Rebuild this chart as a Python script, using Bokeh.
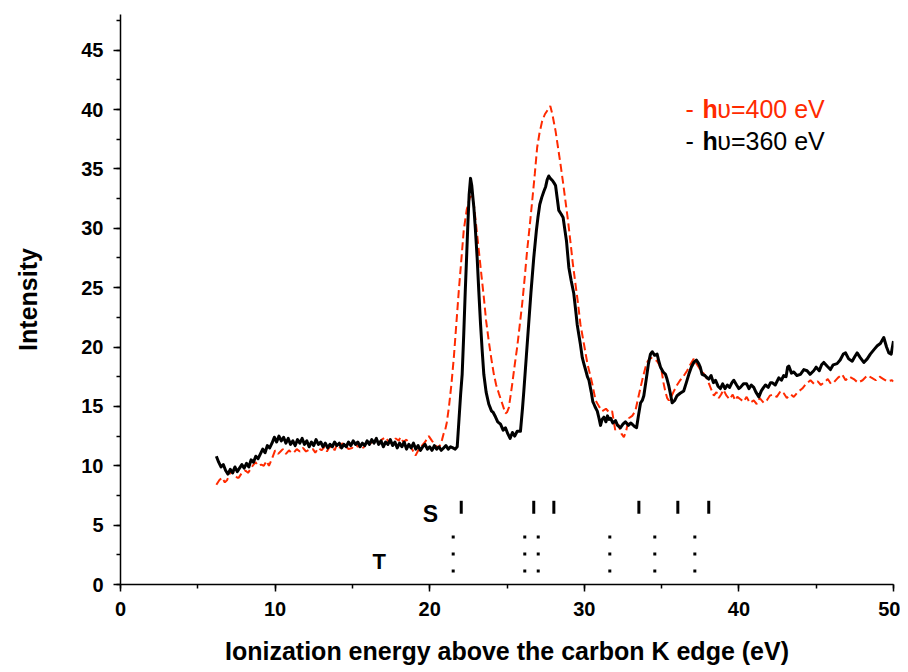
from bokeh.plotting import figure
from bokeh.models import Range1d, SingleIntervalTicker, Label, ColumnDataSource
from bokeh.embed import file_html
from bokeh.resources import INLINE

# ---- data ----
E360 = [6.2, 6.35, 6.5, 6.65, 6.8, 6.95, 7.1, 7.25, 7.4, 7.55, 7.7, 7.85, 8.0, 8.15, 8.3, 8.45, 8.6, 8.75, 8.9, 9.05,
        9.2, 9.35, 9.5, 9.65, 9.8, 9.95, 10.1, 10.25, 10.4, 10.55, 10.7, 10.85, 11.0, 11.15, 11.3, 11.45, 11.6, 11.75, 11.9, 12.05,
        12.2, 12.35, 12.5, 12.65, 12.8, 12.95, 13.1, 13.25, 13.4, 13.55, 13.7, 13.85, 14.0, 14.15, 14.3, 14.45, 14.6, 14.75, 14.9, 15.05,
        15.2, 15.35, 15.5, 15.65, 15.8, 15.95, 16.1, 16.25, 16.4, 16.55, 16.7, 16.85, 17.0, 17.15, 17.3, 17.45, 17.6, 17.75, 17.9, 18.05,
        18.2, 18.35, 18.5, 18.65, 18.8, 18.95, 19.1, 19.25, 19.4, 19.55, 19.7, 19.85, 20.0, 20.15, 20.3, 20.45, 20.6, 20.75, 20.9, 21.05,
        21.2, 21.35, 21.5, 21.65, 21.78, 21.9, 22.0, 22.1, 22.2, 22.3, 22.4, 22.47, 22.55, 22.64, 22.72, 22.8, 22.86, 22.95, 23.07, 23.18,
        23.29, 23.4, 23.5, 23.65, 23.82, 24.0, 24.1, 24.26, 24.4, 24.58, 24.75, 24.9, 25.05, 25.2, 25.35, 25.5, 25.66, 25.87, 26.0, 26.09,
        26.25, 26.4, 26.55, 26.73, 26.9, 27.0, 27.12, 27.25, 27.38, 27.5, 27.6, 27.7, 27.8, 27.95, 28.05, 28.14, 28.25, 28.35, 28.5, 28.63,
        28.75, 28.85, 29.0, 29.15, 29.32, 29.45, 29.54, 29.65, 29.75, 29.87, 29.97, 30.1, 30.2, 30.3, 30.45, 30.55, 30.62, 30.72, 30.84, 30.95,
        31.05, 31.15, 31.27, 31.4, 31.5, 31.6, 31.7, 31.85, 32.02, 32.15, 32.34, 32.5, 32.66, 32.85, 33.0, 33.1, 33.25, 33.38, 33.5, 33.64,
        33.75, 33.85, 34.02, 34.15, 34.28, 34.4, 34.55, 34.71, 34.82, 34.93, 35.1, 35.25, 35.35, 35.47, 35.58, 35.68, 35.85, 36.0, 36.2, 36.43,
        36.6, 36.76, 36.92, 37.08, 37.25, 37.4, 37.5, 37.62, 37.8, 37.95, 38.05, 38.2, 38.35, 38.49, 38.65, 38.8, 38.95, 39.1, 39.25, 39.4,
        39.55, 39.67, 39.85, 40.0, 40.1, 40.3, 40.5, 40.65, 40.8, 40.96, 41.1, 41.29, 41.45, 41.6, 41.72, 41.9, 42.05, 42.15, 42.35, 42.58,
        42.75, 42.9, 43.05, 43.15, 43.23, 43.4, 43.55, 43.75, 43.98, 44.2, 44.41, 44.6, 44.84, 45.0, 45.2, 45.35, 45.49, 45.7, 45.92, 46.1,
        46.35, 46.55, 46.75, 46.9, 47.1, 47.33, 47.5, 47.65, 47.85, 48.08, 48.3, 48.5, 48.75, 48.95, 49.15, 49.37, 49.55, 49.7, 49.85, 50.0]
I360 = [10.8, 10.3, 9.9, 10.1, 9.6, 9.3, 9.7, 9.4, 9.9, 9.5, 9.8, 10.1, 9.8, 10.2, 9.9, 10.5, 10.3, 10.8, 10.6, 11.0,
        11.4, 11.1, 11.7, 11.5, 11.9, 12.4, 12.0, 12.5, 12.1, 12.4, 11.9, 12.3, 11.8, 12.1, 11.7, 12.2, 11.9, 12.3, 11.8, 12.1,
        11.6, 12.0, 11.7, 12.2, 11.8, 12.0, 11.6, 11.9, 11.5, 11.8, 11.6, 12.0, 11.7, 11.9, 11.5, 11.8, 11.6, 12.0, 11.7, 12.1,
        11.8, 12.0, 11.6, 11.9, 11.7, 12.1, 11.8, 12.2, 11.9, 12.3, 11.8, 12.1, 11.6, 12.0, 11.8, 12.2, 11.7, 12.0, 11.5, 11.9,
        11.6, 12.0, 11.4, 11.8, 11.5, 11.9, 11.4, 11.7, 11.3, 11.6, 11.8, 11.4, 11.6, 11.3, 11.7, 11.4, 11.6, 11.3, 11.5, 11.7,
        11.4, 11.6, 11.5, 11.4, 11.6, 14.0, 16.0, 17.7, 21.0, 24.7, 28.0, 30.4, 32.8, 34.2, 33.6, 32.5, 31.7, 30.0, 27.5, 24.6,
        21.9, 19.6, 17.7, 16.2, 15.2, 14.6, 14.5, 14.1, 13.7, 13.5, 13.0, 13.2, 12.7, 12.3, 12.8, 12.5, 12.9, 12.9, 14.8, 16.3,
        19.2, 21.9, 24.6, 27.5, 29.8, 30.9, 32.0, 32.6, 33.1, 33.5, 34.1, 34.4, 34.2, 34.0, 33.8, 33.6, 32.5, 31.5, 31.2, 30.9,
        29.8, 28.9, 26.7, 25.6, 24.5, 23.0, 21.9, 21.0, 20.2, 19.1, 18.6, 18.0, 17.5, 17.2, 16.2, 15.4, 15.2, 14.9, 14.6, 14.0,
        13.4, 13.9, 14.1, 13.7, 14.2, 13.9, 14.0, 13.6, 13.8, 13.4, 13.2, 13.5, 13.7, 13.4, 13.6, 13.5, 13.3, 13.2, 14.2, 15.3,
        15.5, 15.9, 17.4, 18.6, 19.4, 19.6, 19.3, 19.4, 18.8, 18.3, 17.9, 17.7, 17.3, 16.7, 16.0, 15.3, 15.5, 15.9, 16.1, 16.3,
        17.0, 17.7, 18.3, 18.7, 18.9, 18.6, 18.3, 17.7, 17.6, 17.4, 17.3, 17.6, 17.0, 17.2, 16.7, 16.5, 16.9, 16.5, 16.8, 16.6,
        17.0, 17.2, 16.8, 16.5, 16.6, 16.9, 16.9, 16.5, 16.8, 16.6, 16.2, 15.8, 16.3, 16.6, 16.8, 16.6, 17.0, 17.0, 16.8, 17.4,
        17.2, 17.6, 17.5, 18.3, 18.4, 17.8, 17.9, 17.6, 17.7, 18.1, 18.0, 17.7, 18.0, 18.3, 18.0, 18.5, 18.7, 18.4, 18.1, 18.5,
        18.6, 18.9, 19.4, 19.5, 19.0, 18.8, 19.2, 19.5, 19.1, 18.7, 19.0, 19.4, 19.8, 20.1, 20.3, 20.8, 20.0, 19.5, 19.4, 20.5]

E400 = [6.2, 6.4, 6.57, 6.75, 6.9, 7.05, 7.22, 7.4, 7.55, 7.65, 7.85, 8.08, 8.25, 8.4, 8.55, 8.73, 8.9, 9.1, 9.27, 9.45,
        9.6, 9.8, 10.0, 10.2, 10.35, 10.5, 10.7, 10.9, 11.05, 11.2, 11.4, 11.6, 11.8, 12.0, 12.25, 12.45, 12.6, 12.8, 13.0, 13.2,
        13.35, 13.48, 13.7, 13.85, 14.0, 14.2, 14.35, 14.55, 14.75, 14.98, 15.15, 15.35, 15.52, 15.7, 15.9, 16.06, 16.25, 16.5, 16.7, 16.9,
        17.14, 17.35, 17.57, 17.8, 18.0, 18.1, 18.3, 18.5, 18.7, 18.9, 19.08, 19.3, 19.5, 19.7, 19.94, 20.15, 20.37, 20.6, 20.8, 20.9,
        21.0, 21.1, 21.24, 21.4, 21.56, 21.72, 21.88, 22.05, 22.2, 22.4, 22.6, 22.72, 22.86, 23.0, 23.18, 23.35, 23.5, 23.65, 23.82, 24.0,
        24.15, 24.3, 24.47, 24.7, 24.9, 25.0, 25.12, 25.22, 25.34, 25.5, 25.66, 25.82, 25.98, 26.15, 26.3, 26.47, 26.63, 26.8, 26.95, 27.1,
        27.27, 27.45, 27.6, 27.8, 27.95, 28.05, 28.14, 28.3, 28.46, 28.62, 28.78, 28.95, 29.1, 29.25, 29.43, 29.6, 29.75, 29.97, 30.2, 30.35,
        30.5, 30.73, 30.95, 31.16, 31.4, 31.6, 31.8, 32.0, 32.2, 32.4, 32.56, 32.72, 32.88, 33.1, 33.3, 33.45, 33.64, 33.8, 33.96, 34.1,
        34.28, 34.5, 34.71, 34.85, 35.0, 35.12, 35.25, 35.36, 35.47, 35.62, 35.8, 36.0, 36.2, 36.4, 36.65, 36.85, 37.08, 37.3, 37.5, 37.7,
        37.9, 38.1, 38.25, 38.38, 38.55, 38.7, 38.85, 39.0, 39.2, 39.4, 39.6, 39.75, 39.9, 40.1, 40.3, 40.5, 40.7, 40.96, 41.15, 41.35,
        41.6, 41.8, 42.0, 42.2, 42.45, 42.7, 42.9, 43.1, 43.35, 43.55, 43.8, 44.1, 44.35, 44.63, 44.85, 45.1, 45.3, 45.5, 45.75, 45.95,
        46.13, 46.4, 46.68, 46.9, 47.15, 47.43, 47.7, 48.0, 48.3, 48.6, 48.85, 49.1, 49.35, 49.6, 49.9, 50.0]
I400 = [8.4, 8.8, 9.0, 8.6, 8.8, 9.3, 9.6, 9.2, 9.0, 9.0, 9.4, 9.6, 9.4, 9.7, 10.0, 10.3, 10.0, 10.1, 10.0, 10.4,
        10.0, 10.6, 11.3, 11.0, 11.2, 11.4, 11.0, 11.3, 11.1, 11.1, 11.4, 11.2, 11.5, 11.2, 11.4, 11.4, 11.1, 11.5, 11.3, 11.6,
        11.2, 11.5, 11.7, 11.3, 11.8, 11.5, 11.9, 11.7, 11.4, 11.5, 11.9, 11.6, 11.8, 11.5, 11.9, 11.7, 12.0, 12.1, 11.8, 12.2,
        12.4, 12.0, 11.9, 12.3, 12.1, 12.4, 12.0, 12.2, 11.7, 11.3, 10.85, 11.4, 11.7, 12.0, 12.5, 12.1, 11.7, 11.5, 12.2, 12.7,
        13.0, 13.6, 14.9, 16.8, 19.1, 21.9, 24.7, 27.4, 29.8, 31.6, 32.6, 32.7, 32.0, 30.3, 28.1, 26.0, 24.2, 22.2, 20.5, 18.9,
        17.7, 16.8, 16.1, 15.2, 14.4, 14.5, 14.9, 15.8, 16.9, 18.5, 20.0, 21.8, 23.6, 25.9, 28.1, 30.2, 32.3, 34.6, 36.8, 38.0,
        39.0, 39.6, 39.9, 40.3, 39.5, 38.8, 38.2, 36.8, 35.4, 33.9, 32.3, 30.6, 28.9, 27.1, 25.3, 23.6, 21.9, 20.3, 18.6, 17.8,
        17.0, 15.5, 15.0, 14.6, 14.8, 14.5, 14.6, 13.0, 13.5, 12.7, 12.4, 13.0, 14.0, 14.2, 14.6, 15.5, 16.6, 17.5, 18.3, 18.8,
        19.1, 19.0, 18.8, 18.5, 18.0, 17.0, 16.2, 15.7, 15.5, 15.8, 16.3, 16.8, 17.2, 17.5, 18.0, 18.5, 19.0, 18.5, 18.1, 17.8,
        17.4, 16.8, 16.3, 15.9, 16.2, 15.7, 16.0, 16.4, 15.9, 15.6, 16.0, 15.5, 15.8, 15.6, 15.4, 15.8, 15.3, 15.5, 15.2, 15.7,
        15.3, 15.5, 15.9, 16.0, 15.8, 16.3, 16.1, 15.7, 16.0, 15.8, 16.2, 16.5, 16.9, 17.2, 16.9, 17.1, 16.8, 17.0, 17.3, 16.9,
        17.0, 17.4, 17.7, 17.2, 17.5, 17.3, 17.0, 17.2, 17.6, 17.4, 17.2, 17.5, 17.3, 17.1, 17.2, 17.1]

S_energies = [22.04, 26.73, 28.03, 33.53, 36.05, 38.05]
T_energies = [21.52, 26.15, 27.02, 31.65, 34.56, 37.15]

legend_labels = ["=400 eV", "=360 eV"]
x_label = "Ionization energy above the carbon K edge (eV)"
y_label = "Intensity"

RED = "#ff2a00"
FONT = "Liberation Sans"

p = figure(width=900, height=670, x_range=Range1d(0, 50), y_range=Range1d(0, 48),
           output_backend="svg", toolbar_location=None,
           min_border_left=120, min_border_right=7, min_border_top=14, min_border_bottom=86)
p.background_fill_color = "white"
p.border_fill_color = "white"
p.outline_line_color = None
p.xgrid.visible = False
p.ygrid.visible = False

p.xaxis.ticker = SingleIntervalTicker(interval=10, num_minor_ticks=2)
p.yaxis.ticker = SingleIntervalTicker(interval=5, num_minor_ticks=2)
for ax in (p.xaxis[0], p.yaxis[0]):
    ax.axis_line_width = 1.5
    ax.axis_line_color = "black"
    ax.major_tick_line_width = 1.5
    ax.minor_tick_line_width = 1.5
    ax.major_tick_line_color = "black"
    ax.minor_tick_line_color = "black"
    ax.major_tick_out = 7
    ax.major_tick_in = 0
    ax.minor_tick_out = 4
    ax.minor_tick_in = 0
    ax.major_label_text_font = FONT
    ax.major_label_text_font_style = "bold"
    ax.major_label_text_font_size = "20px"
    ax.major_label_text_color = "black"
    ax.axis_label_text_font = FONT
    ax.axis_label_text_font_style = "bold"
    ax.axis_label_text_font_size = "25px"
    ax.axis_label_text_color = "black"

p.xaxis.axis_label = x_label
p.yaxis.axis_label = y_label
p.xaxis.major_label_standoff = 10
p.xaxis.axis_label_standoff = 18
p.yaxis.major_label_standoff = 10
p.yaxis.axis_label_standoff = 36

src400 = ColumnDataSource(dict(x=E400, y=I400))
src360 = ColumnDataSource(dict(x=E360, y=I360))
p.line("x", "y", source=src400, line_color=RED, line_width=2, line_dash="8 4")
p.line("x", "y", source=src360, line_color="black", line_width=3, line_join="round")

# S and T transition markers
p.segment(x0=S_energies, y0=[5.95] * len(S_energies), x1=S_energies, y1=[7.05] * len(S_energies),
          line_color="black", line_width=3)
p.segment(x0=T_energies, y0=[4.12] * len(T_energies), x1=T_energies, y1=[0.95] * len(T_energies),
          line_color="black", line_width=3, line_dash="3 14")

p.add_layout(Label(x=19.55, y=5.95, text="S", text_font=FONT, text_font_style="bold",
                   text_font_size="23px", text_color="black", text_baseline="alphabetic"))
p.add_layout(Label(x=16.3, y=1.93, text="T", text_font=FONT, text_font_style="bold",
                   text_font_size="22px", text_color="black", text_baseline="alphabetic"))

# legend (text pieces)
for lbl, col, yb in ((legend_labels[0], RED, 40.05), (legend_labels[1], "black", 37.35)):
    p.add_layout(Label(x=36.55, y=yb, text="-", text_font=FONT, text_font_size="25px",
                       text_color=col, text_baseline="alphabetic"))
    p.add_layout(Label(x=37.65, y=yb, text="h", text_font=FONT, text_font_style="bold",
                       text_font_size="25px", text_color=col, text_baseline="alphabetic"))
    p.add_layout(Label(x=38.6, y=yb, text="\u03c5" + lbl, text_font=FONT,
                       text_font_size="25px", text_color=col, text_baseline="alphabetic"))

open("out.html", "w").write(file_html(p, INLINE))
